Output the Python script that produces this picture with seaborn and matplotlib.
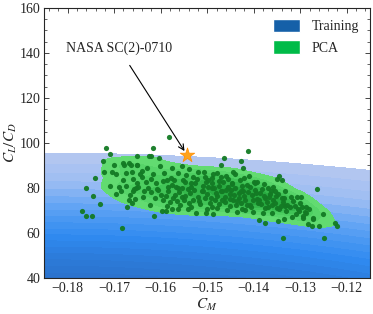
import numpy as np
import pandas as pd
import seaborn as sns
import matplotlib
import matplotlib.pyplot as plt
from matplotlib.colors import LinearSegmentedColormap
from matplotlib.patches import Patch
import matplotlib.ticker as plticker

# PCA samples (C_M, C_L/C_D)
pca_cm = [
    -0.1718, -0.1709, -0.1724, -0.1721, -0.1741, -0.1760, -0.1746, -0.1731, -0.1770, -0.1761,
    -0.1747, -0.1684, -0.1709, -0.1701, -0.1682, -0.1668, -0.1678, -0.1664, -0.1650, -0.1705,
    -0.1697, -0.1675, -0.1662, -0.1697, -0.1686, -0.1675, -0.1666, -0.1660, -0.1657, -0.1669,
    -0.1661, -0.1673, -0.1650, -0.1650, -0.1653, -0.1583, -0.1616, -0.1625, -0.1621, -0.1603,
    -0.1614, -0.1598, -0.1589, -0.1576, -0.1562, -0.1542, -0.1524, -0.1503, -0.1650, -0.1629,
    -0.1602, -0.1576, -0.1555, -0.1539, -0.1519, -0.1506, -0.1562, -0.1641, -0.1616, -0.1587,
    -0.1571, -0.1548, -0.1526, -0.1498, -0.1648, -0.1627, -0.1605, -0.1584, -0.1562, -0.1541,
    -0.1512, -0.1490, -0.1638, -0.1612, -0.1595, -0.1573, -0.1555, -0.1530, -0.1505, -0.1623,
    -0.1587, -0.1559, -0.1534, -0.1490, -0.1413, -0.1464, -0.1427, -0.1470, -0.1423, -0.1345,
    -0.1351, -0.1339, -0.1388, -0.1376, -0.1487, -0.1347, -0.1335, -0.1337, -0.1480, -0.1445,
    -0.1410, -0.1394, -0.1369, -0.1354, -0.1333, -0.1490, -0.1465, -0.1447, -0.1430, -0.1415,
    -0.1397, -0.1468, -0.1449, -0.1431, -0.1422, -0.1404, -0.1386, -0.1376, -0.1358, -0.1340,
    -0.1483, -0.1462, -0.1444, -0.1427, -0.1409, -0.1391, -0.1369, -0.1351, -0.1333, -0.1480,
    -0.1458, -0.1437, -0.1419, -0.1401, -0.1380, -0.1361, -0.1265, -0.1252, -0.1288, -0.1273,
    -0.1260, -0.1275, -0.1284, -0.1295, -0.1294, -0.1225, -0.1222, -0.1248, -0.1300, -0.1298,
    -0.1308, -0.1287, -0.1272,
    -0.1575, -0.1560, -0.1548, -0.1535, -0.1520, -0.1510, -0.1500, -0.1495, -0.1485, -0.1478,
    -0.1470, -0.1462, -0.1455, -0.1450, -0.1440, -0.1438, -0.1432, -0.1425, -0.1418, -0.1412,
    -0.1405, -0.1398, -0.1392, -0.1385, -0.1378, -0.1372, -0.1365, -0.1360, -0.1352, -0.1345,
    -0.1338, -0.1330, -0.1322, -0.1315, -0.1310, -0.1305, -0.1318, -0.1545, -0.1530, -0.1505,
    -0.1490, -0.1475, -0.1460, -0.1592, -0.1610, -0.1620, -0.1632, -0.1600, -0.1580, -0.1565,
    -0.1540, -0.1515, -0.1500, -0.1475, -0.1450, -0.1425, -0.1640, -0.1660, -0.1680, -0.1690,
    -0.1655,
    -0.1585, -0.1570, -0.1555, -0.1550, -0.1538, -0.1528, -0.1518, -0.1508, -0.1498, -0.1492,
    -0.1482, -0.1474, -0.1468, -0.1460, -0.1452, -0.1446, -0.1442, -0.1435, -0.1428, -0.1420,
    -0.1415, -0.1408, -0.1402, -0.1395, -0.1388, -0.1382, -0.1375, -0.1368, -0.1362, -0.1355,
    -0.1348, -0.1342, -0.1335, -0.1328, -0.1320, -0.1312, -0.1302, -0.1296, -0.1290, -0.1282,
    -0.1620, -0.1608, -0.1596, -0.1588, -0.1578, -0.1568, -0.1552, -0.1535, -0.1522, -0.1502,
    -0.1488, -0.1470, -0.1455, -0.1440, -0.1420, -0.1400, -0.1378, -0.1358, -0.1635, -0.1645,
]
pca_ld = [
    97.8, 95.2, 92.0, 87.1, 84.4, 80.1, 76.4, 73.0, 69.8, 67.4,
    67.4, 62.2, 81.0, 90.1, 91.0, 91.0, 90.1, 90.1, 90.1, 87.1,
    86.1, 86.4, 87.1, 77.3, 78.7, 81.0, 76.8, 78.8, 79.4, 74.4,
    73.3, 71.6, 94.2, 82.2, 80.1, 102.8, 97.8, 94.2, 94.2, 93.3,
    67.6, 69.9, 69.9, 70.8, 70.8, 70.8, 68.8, 69.0, 90.2, 88.8,
    89.9, 89.0, 89.5, 88.3, 87.2, 87.2, 86.8, 85.0, 86.2, 83.6,
    83.6, 82.8, 82.1, 83.6, 80.6, 79.9, 79.1, 78.4, 79.9, 79.4,
    78.8, 79.9, 76.1, 75.4, 74.7, 75.4, 76.1, 74.7, 75.4, 72.4,
    72.0, 72.4, 71.4, 71.7, 96.4, 93.2, 92.1, 90.1, 89.0, 85.3,
    84.1, 83.6, 65.9, 64.3, 68.3, 65.5, 66.2, 57.6, 86.5, 87.2,
    85.3, 82.8, 79.9, 78.4, 78.4, 82.1, 82.8, 82.1, 83.3, 81.3,
    82.1, 78.4, 79.1, 77.6, 78.4, 76.9, 77.6, 75.4, 74.7, 75.4,
    74.7, 73.9, 74.7, 73.2, 72.4, 73.5, 71.7, 71.0, 72.0, 71.0,
    70.2, 69.5, 70.2, 69.5, 68.8, 69.0, 79.4, 68.6, 71.7, 66.2,
    63.2, 63.2, 63.9, 66.5, 67.6, 64.6, 63.1, 57.8, 73.2, 75.9,
    75.9, 68.8, 66.5,
    81.5, 78.0, 76.5, 80.5, 76.0, 81.0, 77.5, 73.5, 80.0, 76.5,
    78.5, 76.0, 80.5, 77.2, 79.8, 72.5, 75.5, 80.8, 74.5, 78.0,
    71.5, 79.0, 75.0, 72.8, 76.5, 73.8, 77.5, 72.5, 76.2, 70.5,
    73.6, 69.8, 71.5, 74.2, 68.5, 70.8, 67.2, 85.5, 84.8, 85.0,
    84.2, 83.0, 85.4, 86.5, 82.0, 78.0, 82.5, 76.8, 73.8, 74.0,
    73.2, 72.8, 70.5, 73.0, 71.8, 70.8, 87.5, 84.0, 83.5, 80.5,
    75.0,
    80.5, 77.0, 79.8, 74.8, 77.8, 79.2, 74.2, 78.4, 80.6, 75.6,
    77.8, 80.8, 74.6, 78.9, 75.2, 81.6, 77.0, 74.0, 78.6, 76.4,
    72.6, 80.2, 74.6, 77.6, 74.8, 79.4, 71.2, 75.8, 78.8, 73.2,
    77.2, 71.8, 75.4, 72.6, 76.0, 72.0, 69.6, 71.4, 69.2, 70.6,
    84.0, 79.6, 83.2, 76.2, 84.6, 80.2, 83.4, 82.0, 84.0, 82.4,
    86.0, 84.8, 83.8, 86.2, 84.2, 82.6, 81.8, 80.6, 78.8, 86.2,
]

# training set lies mostly below and left of the visible window
training_cm = [-0.185, -0.263, -0.107, -0.185, -0.185, -0.263, -0.107, -0.263, -0.107, -0.341,
               -0.029, -0.185, -0.185, -0.302, -0.068, -0.302, -0.068, -0.240, -0.130, -0.240,
               -0.130]
training_ld = [0, 0, 0, 35, -35, 35, 35, -35, -35, 0,
               0, 70, -70, 25, 25, -25, -25, 52, 52, -52,
               -52]

naca_cm = [-0.1544]
naca_ld = [94.8]

sns.set_style('ticks')
plt.rcParams['font.family'] = ['Liberation Serif', 'DejaVu Serif']
plt.rcParams['mathtext.fontset'] = 'stix'

fig = plt.figure(figsize=(3.73, 3.14), dpi=100)
ax = fig.add_axes([0.119, 0.115, 0.873, 0.86])

blue_cmap = LinearSegmentedColormap.from_list('train', ['#b6c8f0', '#9cbdf3', '#5ea2f4', '#2f8af0', '#2a6fc8'])
green_cmap = LinearSegmentedColormap.from_list('pca', ['#68de76', '#4acd5f', '#22a53b'])

train_df = pd.DataFrame({'CM': training_cm, 'LD': training_ld})
pca_df = pd.DataFrame({'CM': pca_cm, 'LD': pca_ld})

sns.kdeplot(data=train_df, x='CM', y='LD', fill=True, cmap=blue_cmap, levels=25, thresh=0.13,
            bw_adjust=1.2, ax=ax)
sns.kdeplot(data=pca_df, x='CM', y='LD', fill=True, cmap=green_cmap, levels=7, thresh=0.16,
            bw_adjust=0.8, ax=ax)
sns.scatterplot(data=pca_df, x='CM', y='LD', color='#137a24', s=14, linewidth=0, alpha=0.95, ax=ax)
ax.scatter(naca_cm, naca_ld, marker='*', s=120, color='#ffa31a', edgecolor='#ff8c00', linewidth=0.5, zorder=5)

ax.annotate('NASA SC(2)-0710', xy=(naca_cm[0], naca_ld[0]), xytext=(-0.169, 142),
            ha='center', va='center', fontsize=10,
            arrowprops=dict(arrowstyle='->', color='black', lw=0.8, shrinkA=6, shrinkB=3))

ax.set_xlim(-0.185, -0.115)
ax.set_ylim(40, 160)
ax.set_xlabel(r'$C_M$', fontsize=11, labelpad=1)
ax.set_ylabel(r'$C_L/C_D$', fontsize=11, labelpad=0)
ax.xaxis.set_major_locator(plticker.MultipleLocator(0.01))
ax.xaxis.set_minor_locator(plticker.MultipleLocator(0.002))
ax.yaxis.set_major_locator(plticker.MultipleLocator(20))
ax.yaxis.set_minor_locator(plticker.MultipleLocator(5))
ax.xaxis.set_major_formatter(plticker.FuncFormatter(lambda v, p: '\u2212' + format(abs(v), '.2f')))
ax.tick_params(which='both', direction='in', top=True, right=True, labelsize=10)
ax.tick_params(which='major', length=3.5, width=0.6, pad=3)
ax.tick_params(which='minor', length=2, width=0.5)
for s in ax.spines.values():
    s.set_linewidth(0.8)

handles = [Patch(facecolor='#1560a8', label='Training'), Patch(facecolor='#00bb48', label='PCA')]
ax.legend(handles=handles, loc='upper right', frameon=False, fontsize=10, handlelength=2.0,
          handleheight=1.1, borderaxespad=0.4)

fig.savefig('out.png', dpi=100)
